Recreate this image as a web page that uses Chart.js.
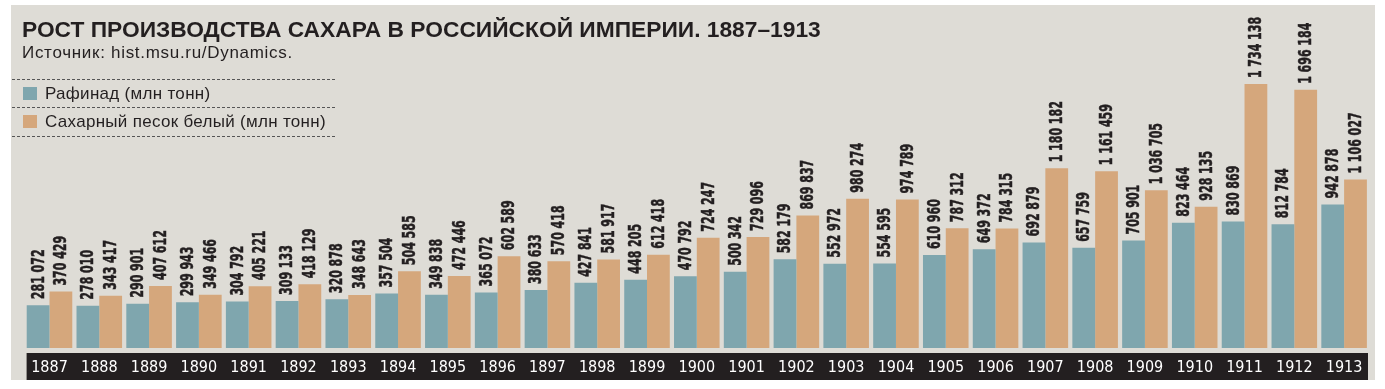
<!DOCTYPE html>
<html lang="ru">
<head>
<meta charset="utf-8">
<title>Рост производства сахара в Российской империи. 1887–1913</title>
<script src="https://cdn.jsdelivr.net/npm/chart.js@4.4.1/dist/chart.umd.min.js"></script>
<style>
  html, body { margin: 0; padding: 0; background: #fff; }
  #wrap { position: relative; width: 1385px; height: 389px; }
  #title {
    position: absolute; left: 22px; top: 17px;
    font: bold 22px "Liberation Sans", Arial, sans-serif;
    color: #231f20; white-space: nowrap; transform-origin: 0 0;
    transform: scaleX(1.035);
  }
  #source {
    position: absolute; left: 22px; top: 43px;
    font: 17px "Liberation Sans", Arial, sans-serif; letter-spacing: 0.7px;
    color: #231f20; white-space: nowrap;
  }
  #legend {
    position: absolute; left: 12px; top: 79px; width: 323px;
    font: 17px "Liberation Sans", Arial, sans-serif; letter-spacing: 0.3px; color: #231f20;
  }
  .row {
    height: 27px; line-height: 27px; padding-left: 11px;
    border-top: 1px dashed #555;
  }
  .row:last-child { border-bottom: 1px dashed #555; height: 28px; line-height: 28px; }
  .sw { display: inline-block; width: 14px; height: 13px; margin-right: 8px; vertical-align: -1px; }
</style>
</head>
<body>
<div id="wrap">
  <canvas id="chart"></canvas>
  <div id="title">РОСТ ПРОИЗВОДСТВА САХАРА В РОССИЙСКОЙ ИМПЕРИИ. 1887–1913</div>
  <div id="source">Источник: hist.msu.ru/Dynamics.</div>
  <div id="legend"></div>
</div>
<script>
const years = ["1887", "1888", "1889", "1890", "1891", "1892", "1893", "1894", "1895", "1896",
  "1897", "1898", "1899", "1900", "1901", "1902", "1903", "1904", "1905", "1906",
  "1907", "1908", "1909", "1910", "1911", "1912", "1913"];

const refined = [281072, 278010, 290901, 299943, 304792, 309133, 320878, 357504, 349838, 365072,
  380633, 427841, 448205, 470792, 500342, 582179, 552972, 554595, 610960, 649372,
  692879, 657759, 705901, 823464, 830869, 812784, 942878];

const whiteSand = [370429, 343417, 407612, 349466, 405221, 418129, 348643, 504585, 472446, 602589,
  570418, 581917, 612418, 724247, 729096, 869837, 980274, 974789, 787312, 784315,
  1180182, 1161459, 1036705, 928135, 1734138, 1696184, 1106027];

const seriesNames = ["Рафинад (млн тонн)", "Сахарный песок белый (млн тонн)"];

const BLUE = "#7fa6ae";
const ORANGE = "#d5a77c";
const PANEL = "#dedcd6";
const INK = "#231f20";
const NARROW = '"Liberation Sans Narrow", "DejaVu Sans Condensed", "Arial Narrow", sans-serif';

function formatValue(v) {
  return String(v).replace(/\B(?=(\d{3})+(?!\d))/g, "\u2004");
}

function buildLegend() {
  const box = document.getElementById("legend");
  [BLUE, ORANGE].forEach((color, i) => {
    const row = document.createElement("div");
    row.className = "row";
    row.innerHTML = `<span class="sw" style="background:${color}"></span>${seriesNames[i]}`;
    box.appendChild(row);
  });
}

// panel, black year band
const backdrop = {
  id: "backdrop",
  beforeDraw(chart) {
    const { ctx, chartArea } = chart;
    ctx.save();
    ctx.fillStyle = "#fff";
    ctx.fillRect(0, 0, chart.width, chart.height);
    ctx.fillStyle = PANEL;
    ctx.fillRect(11, 5, 1364, 375);
    ctx.fillStyle = INK;
    ctx.fillRect(chartArea.left + 2, chartArea.bottom + 5, chartArea.right - chartArea.left - 3, 27);
    ctx.restore();
  },
};

// vertical value labels above bars, squeezed to a condensed look
const barLabels = {
  id: "barLabels",
  afterDatasetsDraw(chart) {
    const ctx = chart.ctx;
    ctx.save();
    ctx.fillStyle = INK;
    ctx.strokeStyle = INK;
    ctx.lineWidth = 0.5;
    ctx.font = `bold 17px ${NARROW}`;
    ctx.textAlign = "left";
    ctx.textBaseline = "middle";
    const squeeze = 7.7 / ctx.measureText("0").width;
    chart.data.datasets.forEach((ds, i) => {
      chart.getDatasetMeta(i).data.forEach((bar, j) => {
        const text = formatValue(ds.data[j]);
        ctx.save();
        ctx.translate(bar.x + 1, bar.y - 6);
        ctx.rotate(-Math.PI / 2);
        ctx.scale(squeeze, 1);
        ctx.fillText(text, 0, 0);
        ctx.strokeText(text, 0, 0);
        ctx.restore();
      });
    });
    ctx.restore();
  },
};

function drawChart() {
  const ctx = document.getElementById("chart");
  new Chart(ctx, {
    type: "bar",
    data: {
      labels: years,
      datasets: [
        { label: seriesNames[0], data: refined, backgroundColor: BLUE },
        { label: seriesNames[1], data: whiteSand, backgroundColor: ORANGE },
      ],
    },
    options: {
      responsive: true,
      maintainAspectRatio: false,
      animation: false,
      devicePixelRatio: 1,
      layout: { padding: { left: 24.6, right: 16, top: 43.5, bottom: 0 } },
      datasets: {
        bar: { categoryPercentage: 0.915, barPercentage: 1, borderWidth: 0 },
      },
      plugins: {
        legend: { display: false },
        tooltip: { enabled: false },
      },
      scales: {
        x: {
          grid: { display: false, drawTicks: false },
          border: { display: false },
          ticks: {
            color: "#fff",
            font: { family: NARROW, size: 16 },
            padding: 10,
            maxRotation: 0,
            autoSkip: false,
          },
          afterFit(scale) {
            scale.height = 41;
          },
        },
        y: {
          display: false,
          min: 0,
          max: 2000000,
        },
      },
    },
    plugins: [backdrop, barLabels],
  });
}

buildLegend();
drawChart();
</script>
</body>
</html>
